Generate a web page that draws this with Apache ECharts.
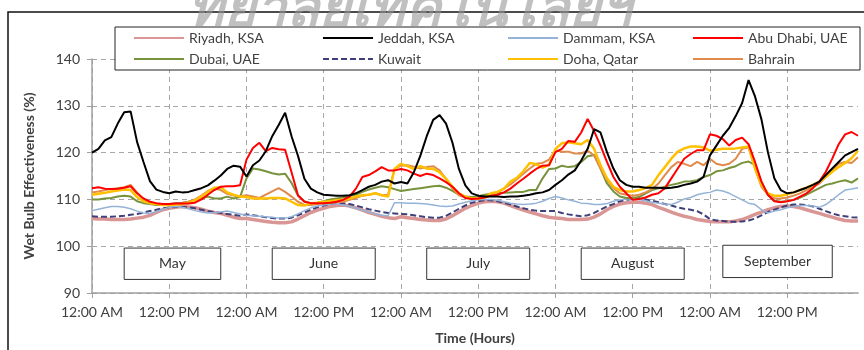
<!DOCTYPE html>
<html>
<head>
<meta charset="utf-8">
<script src="https://cdn.jsdelivr.net/npm/echarts@6/dist/echarts.min.js"></script>
<style>
  html, body { margin: 0; padding: 0; background: #fff; }
  #chart { width: 864px; height: 350px; }
</style>
</head>
<body>
<div id="chart"></div>
<script>
// hourly values, five representative days (May..September), 24 points each
const riyadh = [
  105.9,105.8,105.8,105.7,105.7,105.7,105.8,106.0,106.2,106.6,107.2,107.8,108.1,108.3,108.5,108.4,108.2,107.9,107.5,107.2,107.0,106.6,106.2,105.9,
  105.9,105.7,105.5,105.3,105.1,105.0,105.0,105.2,105.8,106.5,107.2,107.7,108.1,108.5,108.7,108.8,108.6,108.2,107.7,107.2,106.8,106.4,106.1,105.9,
  106.3,106.1,105.9,105.7,105.6,105.5,105.5,105.8,106.5,107.3,108.1,108.7,109.2,109.5,109.6,109.5,109.2,108.7,108.2,107.7,107.3,106.9,106.5,106.2,
  106.0,105.9,105.7,105.7,105.7,105.8,106.2,106.9,107.8,108.5,109.0,109.3,109.4,109.4,109.2,108.9,108.3,107.8,107.3,106.8,106.4,106.1,105.7,105.5,
  105.3,105.2,105.2,105.2,105.4,105.7,106.2,106.8,107.3,107.8,108.2,108.5,108.6,108.5,108.2,107.8,107.4,107.0,106.6,106.2,105.8,105.5,105.4,105.4
];
const jeddah = [
  120.0,120.8,122.6,123.3,126.2,128.6,128.8,122.3,118.0,113.9,112.1,111.6,111.3,111.7,111.5,111.6,112.0,112.4,113.0,114.0,115.1,116.5,117.2,117.0,
  114.9,117.3,118.3,120.3,123.5,125.9,128.5,123.5,119.3,114.4,112.3,111.5,111.0,110.9,110.8,110.8,110.9,111.3,112.0,112.7,113.1,113.8,114.1,113.4,
  113.7,113.4,115.8,119.3,123.5,127.0,128.0,126.2,122.1,116.5,113.0,111.3,110.8,110.6,110.6,110.6,110.5,110.6,110.6,110.8,111.0,111.3,111.5,112.0,
  113.1,114.1,115.3,116.2,118.3,120.8,125.0,124.3,120.1,116.6,114.1,113.1,112.7,112.7,112.5,112.5,112.5,112.4,112.5,112.7,113.1,113.4,113.8,114.8,
  119.4,121.5,123.6,125.3,127.8,130.6,135.5,132.0,127.1,120.1,114.5,112.0,111.3,111.5,112.0,112.5,113.1,113.8,115.2,116.6,118.0,119.4,120.1,120.8
];
const dammam = [
  107.6,107.9,108.2,108.5,108.5,108.3,108.0,107.5,107.1,107.0,107.4,107.9,108.3,108.5,108.3,108.0,107.6,107.3,107.1,107.2,107.3,107.5,107.2,106.9,
  106.6,106.5,106.4,106.3,106.2,106.0,106.0,106.3,106.9,107.6,108.2,108.6,108.8,109.0,109.0,108.8,108.5,108.1,107.7,107.3,106.9,106.6,106.5,109.3,
  109.3,109.2,109.2,109.1,109.0,108.8,108.6,108.5,108.6,109.0,109.4,109.7,109.9,110.0,110.0,109.8,109.5,109.2,109.0,108.9,109.0,109.2,109.6,110.2,
  110.6,110.3,109.9,109.6,109.2,109.1,108.9,108.9,109.1,109.6,109.9,110.1,110.1,110.0,109.7,109.4,109.2,109.0,108.9,109.4,110.1,110.4,111.0,111.3,
  111.5,112.0,111.8,111.3,110.6,109.9,109.2,108.9,107.8,107.1,107.5,107.8,108.2,108.5,108.7,108.7,108.6,108.3,108.9,109.9,111.0,112.0,112.2,112.5
];
const abuDhabi = [
  112.4,112.6,112.3,112.2,112.3,112.5,112.8,111.3,110.2,109.5,109.2,109.0,109.0,109.1,109.1,109.1,109.3,110.0,111.0,112.0,112.7,112.8,112.8,113.0,
  118.5,121.0,122.1,120.3,121.0,120.7,120.6,115.8,110.9,109.5,109.2,109.2,109.2,109.3,109.5,109.9,110.6,112.3,114.8,115.2,116.0,116.9,116.2,116.2,
  116.5,116.2,115.5,115.0,115.5,115.2,114.5,113.7,112.7,111.3,110.3,110.1,110.2,110.4,110.8,111.0,111.5,112.3,113.4,114.4,115.5,116.5,117.2,117.3,
  120.1,120.8,122.5,122.3,124.3,127.2,124.6,121.5,118.0,114.8,112.7,111.3,109.9,110.1,110.4,111.0,111.3,112.4,114.5,116.6,118.7,119.7,120.5,120.5,
  123.9,123.6,122.9,121.5,122.7,123.2,121.8,118.0,113.8,111.0,109.6,109.4,109.6,109.9,110.6,111.3,112.4,113.8,115.9,118.7,121.8,123.9,124.4,123.6
];
const dubai = [
  110.0,110.0,110.2,110.3,110.6,110.8,110.6,109.6,109.2,109.0,108.8,108.8,109.0,109.2,109.3,109.5,109.9,110.2,110.6,110.2,110.2,110.6,110.2,110.5,
  114.5,116.6,116.4,116.0,115.6,115.3,115.5,113.5,110.8,109.6,109.2,109.3,109.6,110.0,110.2,110.4,110.7,111.0,111.6,112.1,112.5,112.8,112.6,112.2,
  111.8,112.0,112.2,112.4,112.6,112.8,112.9,112.5,111.8,111.0,110.6,110.5,110.7,111.0,111.2,111.3,111.4,111.5,111.6,111.6,112.0,112.0,114.5,116.5,
  116.6,117.2,116.9,117.1,118.0,119.2,119.5,116.6,113.4,111.7,110.6,110.3,110.3,110.5,111.3,112.0,112.4,112.7,113.1,113.4,113.8,113.9,114.1,114.8,
  115.2,116.0,116.2,116.7,117.1,117.8,118.1,117.3,113.8,111.0,109.7,109.5,109.6,109.9,110.4,111.0,111.7,112.4,113.1,113.4,113.8,114.1,113.6,114.5
];
const kuwait = [
  106.4,106.3,106.3,106.3,106.4,106.5,106.7,106.9,107.2,107.5,107.8,108.1,108.3,108.4,108.4,108.3,108.1,107.8,107.5,107.3,107.1,106.9,106.7,106.5,
  106.8,106.6,106.4,106.2,106.0,105.9,105.9,106.1,106.6,107.2,107.8,108.3,108.7,109.0,109.2,109.2,109.0,108.7,108.3,107.9,107.6,107.3,107.1,107.0,
  106.9,106.8,106.6,106.4,106.2,106.1,106.1,106.5,107.2,108.0,108.7,109.3,109.6,109.8,109.8,109.6,109.3,108.9,108.5,108.1,107.8,107.6,107.5,107.5,
  107.5,107.1,106.8,106.6,106.4,106.6,107.1,107.8,108.5,109.0,109.6,109.9,110.1,110.1,110.0,109.7,109.4,109.0,108.7,108.3,108.0,107.8,107.5,106.8,
  105.8,105.5,105.4,105.2,105.2,105.3,105.5,105.9,106.6,107.3,107.8,108.3,108.7,108.9,108.9,108.8,108.5,108.0,107.5,107.0,106.6,106.4,106.2,106.1
];
const doha = [
  111.0,111.2,111.4,111.7,111.9,112.1,112.0,110.5,109.6,109.2,109.0,108.8,108.8,108.9,109.0,109.3,109.8,110.6,111.6,112.5,112.6,111.5,111.0,110.6,
  110.5,110.2,110.2,110.2,110.3,110.3,110.2,109.5,108.8,108.7,109.2,109.3,109.5,109.6,109.8,109.9,110.2,110.6,110.9,111.0,111.3,110.9,110.6,116.5,
  117.6,117.1,116.5,117.1,116.6,116.5,115.8,114.4,112.7,111.3,110.6,110.2,110.2,110.4,111.3,111.6,112.3,113.8,114.6,116.0,117.8,117.5,116.8,117.4,
  120.8,122.0,122.2,122.0,121.8,122.7,120.8,117.3,114.5,112.7,112.0,111.7,111.7,112.0,112.4,113.1,115.2,116.9,118.7,120.2,120.9,121.3,121.3,121.1,
  120.4,120.6,120.8,120.8,120.9,121.1,121.3,116.6,113.1,111.3,110.8,110.8,111.1,111.5,112.0,112.5,113.1,113.8,114.8,115.9,116.9,117.8,118.8,120.4
];
const bahrain = [
  111.5,111.7,112.0,112.2,112.4,112.6,113.1,111.5,110.0,109.3,109.0,108.8,108.8,109.0,109.2,109.5,110.0,110.8,111.8,112.4,112.0,111.2,110.8,110.7,
  110.9,110.6,110.3,111.0,111.7,112.4,111.6,110.6,109.5,108.8,108.8,109.0,109.2,109.3,109.4,109.5,109.9,110.3,110.8,111.0,111.3,110.9,111.0,116.5,
  117.2,117.3,117.0,116.6,116.9,117.1,116.2,114.4,112.3,110.9,110.4,110.1,110.2,110.5,110.9,111.5,112.3,113.2,114.3,115.5,116.6,117.6,117.8,118.5,
  120.5,120.2,120.2,119.8,119.8,120.4,119.4,116.6,114.1,112.4,111.3,111.0,110.8,111.0,111.5,112.2,113.4,115.2,116.9,118.0,117.6,117.1,118.0,117.3,
  118.7,117.6,117.3,117.6,118.7,120.8,121.1,116.6,112.7,111.0,110.2,110.2,110.4,110.8,111.3,112.0,112.7,113.4,114.8,116.2,117.6,118.0,117.8,119.0
];

const months = ["May", "June", "July", "August", "September"];
const hours = Array.from({ length: 120 }, (_, i) => String(i));

const FONT = "Lato, 'Open Sans', sans-serif";
const TEXT = "#404040";

const chart = echarts.init(document.getElementById("chart"), null, { renderer: "canvas" });

function line(name, data, color, width, extra) {
  return Object.assign({
    name: name,
    type: "line",
    data: data,
    symbol: "none",
    showSymbol: false,
    lineStyle: { color: color, width: width },
    itemStyle: { color: color },
    animation: false
  }, extra || {});
}

// month boxes: [startHour, endHour, top, bottom]
const monthBoxes = [
  [5, 20, 99.6, 92.9],
  [28, 44, 99.6, 92.9],
  [52, 68, 99.6, 92.9],
  [76, 92, 99.6, 92.9],
  [98, 115, 100.2, 93.3]
];

const legendBase = {
  orient: "vertical",
  top: 31,
  padding: 0,
  itemWidth: 50,
  itemHeight: 14,
  itemGap: 7,
  z: 10,
  itemStyle: { opacity: 0 },
  textStyle: { fontFamily: FONT, fontSize: 14, color: TEXT, lineHeight: 14 },
  selectedMode: false
};

const option = {
  backgroundColor: "#fff",
  animation: false,
  grid: { left: 92, right: 6, top: 59, bottom: 53 },
  legend: [
    Object.assign({ left: 133, data: ["Riyadh, KSA", "Dubai, UAE"] }, legendBase),
    Object.assign({ left: 322, data: ["Jeddah, KSA", "Kuwait"] }, legendBase),
    Object.assign({ left: 507, data: ["Dammam, KSA", "Doha, Qatar"] }, legendBase),
    Object.assign({ left: 692, data: ["Abu Dhabi, UAE", "Bahrain"] }, legendBase)
  ],
  xAxis: {
    type: "category",
    data: hours,
    boundaryGap: false,
    name: "Time (Hours)",
    nameLocation: "middle",
    nameGap: 38,
    nameTextStyle: { fontFamily: FONT, fontSize: 14, fontWeight: "bold", color: TEXT },
    axisLine: { lineStyle: { color: "#a0a0a0", width: 1.5 } },
    axisTick: { show: true, interval: 11, length: 5, lineStyle: { color: "#a0a0a0" } },
    axisLabel: {
      interval: 11,
      margin: 12,
      fontFamily: FONT,
      fontSize: 14,
      color: TEXT,
      formatter: (v, i) => (i % 24 === 0 ? "12:00 AM" : "12:00 PM")
    },
    splitLine: { show: true, interval: 11, lineStyle: { color: "#a6a6a6", type: [5, 4], width: 1 } }
  },
  yAxis: {
    type: "value",
    min: 90,
    max: 140,
    interval: 10,
    name: "Wet Bulb Effectiveness (%)",
    nameLocation: "middle",
    nameGap: 56,
    nameTextStyle: { fontFamily: FONT, fontSize: 14, fontWeight: "bold", color: TEXT },
    axisLine: { show: true, lineStyle: { color: "#a0a0a0", width: 1.5 } },
    axisTick: { show: true, length: 5, lineStyle: { color: "#a0a0a0" } },
    axisLabel: { margin: 12, fontFamily: FONT, fontSize: 14, color: TEXT },
    splitLine: { show: true, lineStyle: { color: "#a6a6a6", type: [5, 4], width: 1 } }
  },
  graphic: [
    {
      type: "rect",
      z: 1,
      silent: true,
      shape: { x: 8, y: 12, width: 900, height: 400 },
      style: { fill: null, stroke: "#111", lineWidth: 1.5 }
    },
    {
      type: "rect",
      z: 9,
      silent: true,
      shape: { x: 115, y: 27, width: 745, height: 43 },
      style: { fill: "#fff", stroke: "#222", lineWidth: 1 }
    },
    {
      // faint watermark across the top of the scan
      type: "text",
      left: 188,
      top: -16,
      z: 20,
      silent: true,
      style: {
        text: "ทยาลัยเทคโนโลยีฯ",
        font: "italic bold 54px 'Noto Sans', 'DejaVu Sans', sans-serif",
        fill: "rgba(150,150,150,0.6)"
      }
    }
  ],
  series: [
    line("Riyadh, KSA", riyadh, "#d99694", 3.5, {
      markArea: {
        silent: true,
        itemStyle: { color: "#fff", borderColor: "#333", borderWidth: 1 },
        label: { show: true, position: "inside", fontFamily: FONT, fontSize: 14, color: "#333" },
        data: monthBoxes.map((b, i) => [
          { name: months[i], coord: [b[0], b[2]] },
          { coord: [b[1], b[3]] }
        ])
      }
    }),
    line("Kuwait", kuwait, "#3f3f7a", 2, { lineStyle: { color: "#3f3f7a", width: 2, type: [6, 3] } }),
    line("Dammam, KSA", dammam, "#95b3d7", 1.5),
    line("Dubai, UAE", dubai, "#77933c", 2),
    line("Bahrain", bahrain, "#e08a4c", 2),
    line("Doha, Qatar", doha, "#ffc000", 2.5),
    line("Abu Dhabi, UAE", abuDhabi, "#ff0000", 2),
    line("Jeddah, KSA", jeddah, "#000000", 2)
  ]
};

chart.setOption(option);
</script>
</body>
</html>
